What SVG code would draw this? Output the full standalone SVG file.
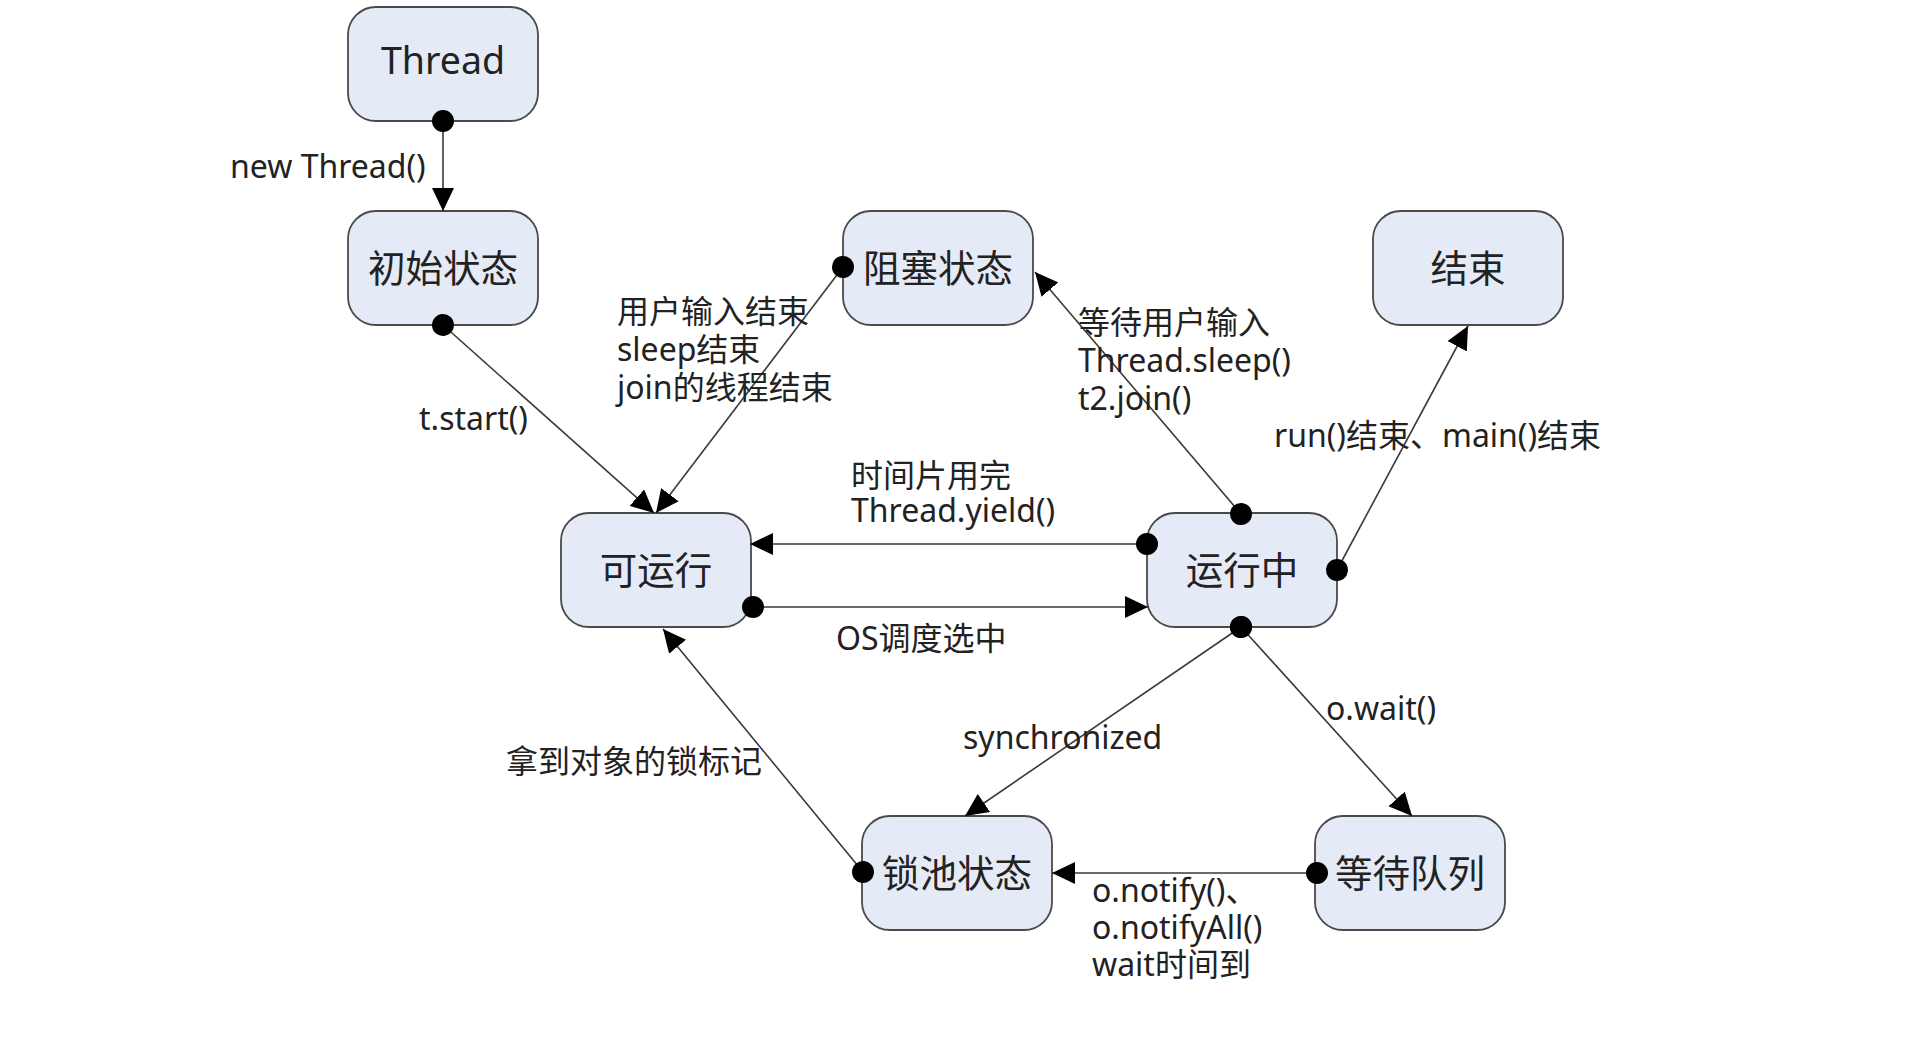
<svg xmlns="http://www.w3.org/2000/svg" width="1918" height="1054" viewBox="0 0 1918 1054">
<style>
.node rect{fill:#e5ebf6;stroke:#4a4a4a;stroke-width:1.8}
.nl{font-family:"Noto Sans","Noto Sans CJK SC",sans-serif;font-size:37.5px;fill:#222;text-anchor:middle}
.lb{font-family:"Noto Sans","Noto Sans CJK SC",sans-serif;font-size:32px;fill:#222}
.conn line{stroke:#3a3a3a;stroke-width:1.6;fill:none;marker-start:url(#dot);marker-end:url(#arr)}
</style>
<defs>
<marker id="arr" markerUnits="userSpaceOnUse" viewBox="0 0 23 22" markerWidth="23" markerHeight="22" refX="23" refY="11" orient="auto"><path d="M0,0 L23,11 L0,22 z" fill="#000"/></marker>
<marker id="dot" markerUnits="userSpaceOnUse" viewBox="0 0 24 24" markerWidth="24" markerHeight="24" refX="12" refY="12" orient="auto"><circle cx="12" cy="12" r="11" fill="#000"/></marker>
</defs>
<rect width="1918" height="1054" fill="#fff"/>
<g id="n-thread" class="node"><rect x="348" y="7" width="190" height="114" rx="28"/><text class="nl" x="443" y="74">Thread</text></g>
<g id="n-init" class="node"><rect x="348" y="211" width="190" height="114" rx="28"/><text class="nl" x="443" y="282">初始状态</text></g>
<g id="n-blocked" class="node"><rect x="843" y="211" width="190" height="114" rx="28"/><text class="nl" x="938" y="282">阻塞状态</text></g>
<g id="n-end" class="node"><rect x="1373" y="211" width="190" height="114" rx="28"/><text class="nl" x="1468" y="282">结束</text></g>
<g id="n-runnable" class="node"><rect x="561" y="513" width="190" height="114" rx="28"/><text class="nl" x="656" y="584">可运行</text></g>
<g id="n-running" class="node"><rect x="1147" y="513" width="190" height="114" rx="28"/><text class="nl" x="1242" y="584">运行中</text></g>
<g id="n-lockpool" class="node"><rect x="862" y="816" width="190" height="114" rx="28"/><text class="nl" x="957" y="887">锁池状态</text></g>
<g id="n-waitqueue" class="node"><rect x="1315" y="816" width="190" height="114" rx="28"/><text class="nl" x="1410" y="887">等待队列</text></g>
<g id="connectors" class="conn">
<line x1="443" y1="121" x2="443" y2="211"/>
<line x1="443" y1="325" x2="654" y2="513"/>
<line x1="843" y1="267" x2="656" y2="513"/>
<line x1="1241" y1="514" x2="1035" y2="272"/>
<line x1="1337" y1="570" x2="1468" y2="326"/>
<line x1="1147" y1="544" x2="750" y2="544"/>
<line x1="753" y1="607" x2="1148" y2="607"/>
<line x1="1241" y1="627" x2="965" y2="816"/>
<line x1="1241" y1="627" x2="1412" y2="816"/>
<line x1="1317" y1="873" x2="1052" y2="873"/>
<line x1="863" y1="872" x2="663" y2="629"/>
</g>
<g id="labels">
<text class="lb" x="230" y="178">new Thread()</text>
<text class="lb" x="419" y="430">t.start()</text>
<text class="lb" x="617" y="323">用户输入结束<tspan x="617" dy="38">sleep结束</tspan><tspan x="617" dy="38">join的线程结束</tspan></text>
<text class="lb" x="1078" y="334">等待用户输入<tspan x="1078" dy="38">Thread.sleep()</tspan><tspan x="1078" dy="38">t2.join()</tspan></text>
<text class="lb" x="1274" y="447">run()结束、main()结束</text>
<text class="lb" x="851" y="487">时间片用完<tspan x="851" dy="35">Thread.yield()</tspan></text>
<text class="lb" x="836" y="650">OS调度选中</text>
<text class="lb" x="963" y="749">synchronized</text>
<text class="lb" x="1326" y="720">o.wait()</text>
<text class="lb" x="506" y="773">拿到对象的锁标记</text>
<text class="lb" x="1092" y="902">o.notify()、<tspan x="1092" dy="37">o.notifyAll()</tspan><tspan x="1092" dy="37">wait时间到</tspan></text>
</g>
</svg>
